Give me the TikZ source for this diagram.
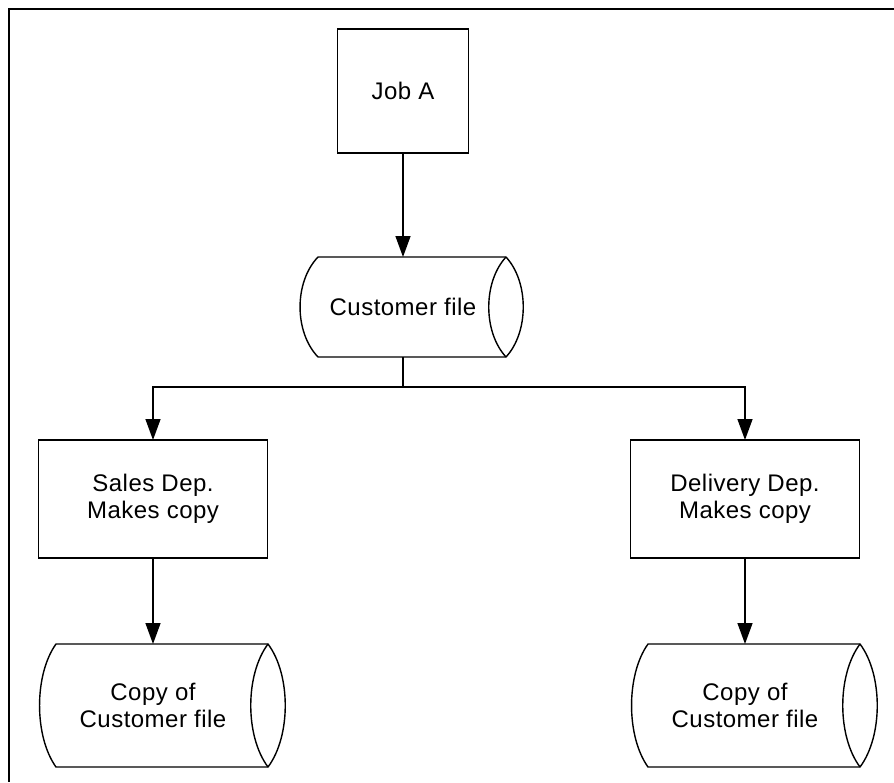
\documentclass[tikz,border=0pt]{standalone}
\usepackage{fontspec}
\setmainfont{Liberation Sans}[LetterSpace=2.0]
\usetikzlibrary{arrows.meta}

% outline of a stored-data drum round a node:
% #1 node, #2 left side, #3 right side, #4 half height, #5 bulge of the left side
\newcommand{\drumoutline}[5]{%
  \begin{scope}[shift={(#1)}]
    \draw (#2,-#4) -- (#3,-#4)
          .. controls (#3+23,-0.5*#4) and (#3+23,0.5*#4) .. (#3,#4)
          -- (#2,#4)
          .. controls (#2-1.33*#5,0.5*#4) and (#2-1.33*#5,-0.5*#4) .. cycle;
    \draw (#3,-#4) .. controls (#3-23,-0.5*#4) and (#3-23,0.5*#4) .. (#3,#4);
  \end{scope}}

\begin{document}
\begin{tikzpicture}[
x=0.5pt, y=-0.5pt,
line width=0.7pt,
font=\fontsize{12}{13.7}\selectfont,
     box/.style = {rectangle, draw, align=center,% process steps
                   inner sep=0pt, outer sep=0pt},
    drum/.style = {align=center, inner sep=0pt,% text of the data stores
                   outer sep=0pt, minimum height=#1},
    flow/.style = {-{Triangle[length=10.5pt,width=7.5pt]}},
                    ]
\useasboundingbox (0,0) rectangle (894,782);
\draw (894,9) -- (9,9) -- (9,782);

\node[box, minimum width=65.5pt, minimum height=62pt] (job) at (403,91) {Job A};
\node[drum=50pt] (cust) at (403,307) {Customer file};
\node[box, minimum width=114.5pt, minimum height=59pt] (sales) at (153,499)
    {Sales Dep.\\Makes copy};
\node[box, minimum width=114.5pt, minimum height=59pt] (deliv) at (745,499)
    {Delivery Dep.\\Makes copy};
\node[drum=61.5pt] (salescopy) at (153,705.5) {Copy of\\Customer file};
\node[drum=61.5pt] (delivcopy) at (745,705.5) {Copy of\\Customer file};

\drumoutline{cust}{-85}{103}{50}{18}
\drumoutline{salescopy}{-97}{115}{61.5}{16.5}
\drumoutline{delivcopy}{-97}{115}{61.5}{16.5}

% connectors
\draw[flow] (job) -- (cust.north);
\draw (cust.south) -- ++(0,30) coordinate (split);
\draw[flow] (split) -| (sales.north);
\draw[flow] (split) -| (deliv.north);
\draw[flow] (sales) -- (salescopy.north);
\draw[flow] (deliv) -- (delivcopy.north);
\end{tikzpicture}
\end{document}
